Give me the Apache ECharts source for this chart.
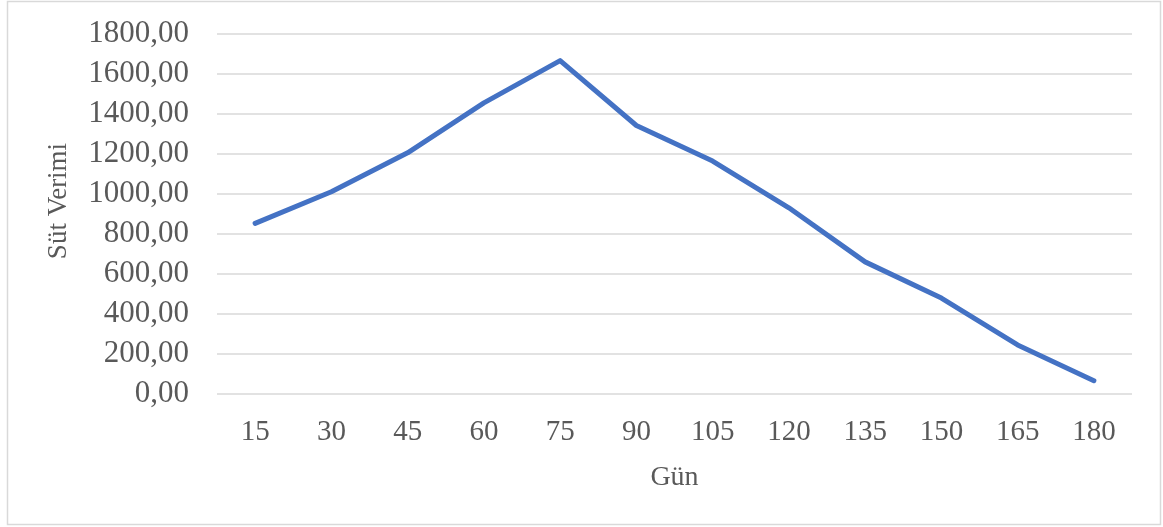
<!DOCTYPE html>
<html>
<head>
<meta charset="utf-8">
<script src="https://cdn.jsdelivr.net/npm/echarts@6/dist/echarts.min.js"></script>
<style>
html,body{margin:0;padding:0;background:#fff;}
#c{width:1163px;height:527px;}
</style>
</head>
<body>
<div id="c"></div>
<script>
const categories = ['15','30','45','60','75','90','105','120','135','150','165','180'];
const sutVerimi = [852, 1010, 1205, 1455, 1667, 1342, 1164, 930, 659, 478, 243, 64];
const yTicks = [0, 200, 400, 600, 800, 1000, 1200, 1400, 1600, 1800];
const xTitle = 'Gün';
const yTitle = 'Süt Verimi';

const font = '"Liberation Serif", "Times New Roman", serif';
const txt = '#595959';
const chart = echarts.init(document.getElementById('c'), null, {renderer: 'canvas'});
chart.setOption({
  animation: false,
  backgroundColor: '#fff',
  graphic: [{
    type: 'rect',
    shape: {x: 7.5, y: 1.5, width: 1153, height: 523},
    style: {fill: 'none', stroke: '#d9d9d9', lineWidth: 1.5},
    z: -1
  }, {
    type: 'text',
    x: 59, y: 201,
    rotation: Math.PI / 2,
    style: {
      text: yTitle, fontFamily: font, fontSize: 27, fill: txt,
      align: 'center', verticalAlign: 'middle'
    }
  }],
  grid: {left: 217, right: 31, top: 34, bottom: 133.5},
  xAxis: {
    type: 'category',
    data: categories,
    boundaryGap: true,
    name: xTitle,
    nameLocation: 'middle',
    nameGap: 70,
    nameTextStyle: {fontFamily: font, fontSize: 28, color: txt},
    axisLine: {show: false},
    axisTick: {show: false},
    axisLabel: {fontFamily: font, fontSize: 29, color: txt, margin: 24}
  },
  yAxis: {
    type: 'value',
    min: yTicks[0],
    max: yTicks[yTicks.length - 1],
    interval: 200,
    axisLine: {show: false},
    axisTick: {show: false},
    splitLine: {lineStyle: {color: '#d9d9d9', width: 1.5}},
    axisLabel: {
      fontFamily: font, fontSize: 31, color: txt, margin: 28,
      formatter: v => v.toFixed(2).replace('.', ',')
    }
  },
  series: [{
    type: 'line',
    data: sutVerimi,
    symbol: 'none',
    lineStyle: {color: '#4472c4', width: 5, cap: 'round', join: 'round'},
    itemStyle: {color: '#4472c4'}
  }]
});
</script>
</body>
</html>
